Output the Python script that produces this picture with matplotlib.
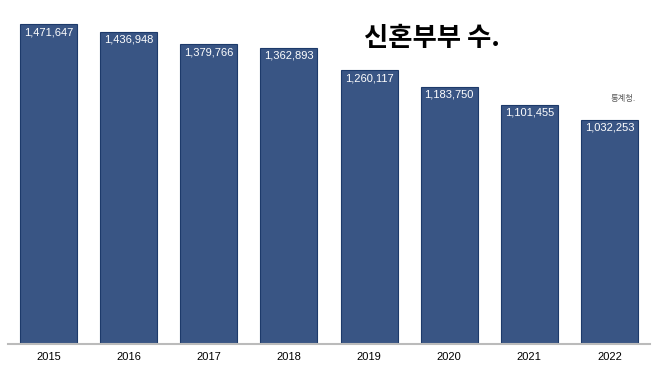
import matplotlib.pyplot as plt

# 신혼부부 수 (통계청)
years = ['2015', '2016', '2017', '2018', '2019', '2020', '2021', '2022']
couples = [1471647, 1436948, 1379766, 1362893, 1260117, 1183750, 1101455, 1032253]

plt.rcParams['font.family'] = ['Liberation Sans', 'Noto Sans CJK KR', 'DejaVu Sans']

W, H = 658, 368
fig = plt.figure(figsize=(W / 100, H / 100), dpi=100)
ax = fig.add_axes([8 / W, (H - 343.5) / H, (650 - 8) / W, 343.5 / H])

x = list(range(len(years)))
ax.bar(x, couples, width=0.71, color='#395584', edgecolor='#1d3a6a', linewidth=0.8)

for i, v in zip(x, couples):
    ax.text(i, v - 13000, f'{v:,}', ha='center', va='top', color='white', fontsize=8)

ax.set_xlim(-0.505, 7.505)
ax.set_ylim(0, 1584000)
ax.set_xticks(x)
ax.set_xticklabels(years, fontsize=8)
ax.tick_params(axis='x', length=0, pad=6)
ax.set_yticks([])
for s in ['top', 'right', 'left']:
    ax.spines[s].set_visible(False)
ax.spines['bottom'].set_color('#bbbbbb')
ax.spines['bottom'].set_linewidth(1.5)

fig.text(432 / W, 1 - 38 / H, '신혼부부 수.', ha='center', va='center',
         fontsize=19, fontweight='bold', family=['Noto Sans CJK KR', 'DejaVu Sans'])
fig.text(623 / W, 1 - 98 / H, '통계청.', ha='center', va='center',
         fontsize=6, color='#555555', family=['Noto Sans CJK KR', 'DejaVu Sans'])

fig.savefig('out.png', dpi=100)
